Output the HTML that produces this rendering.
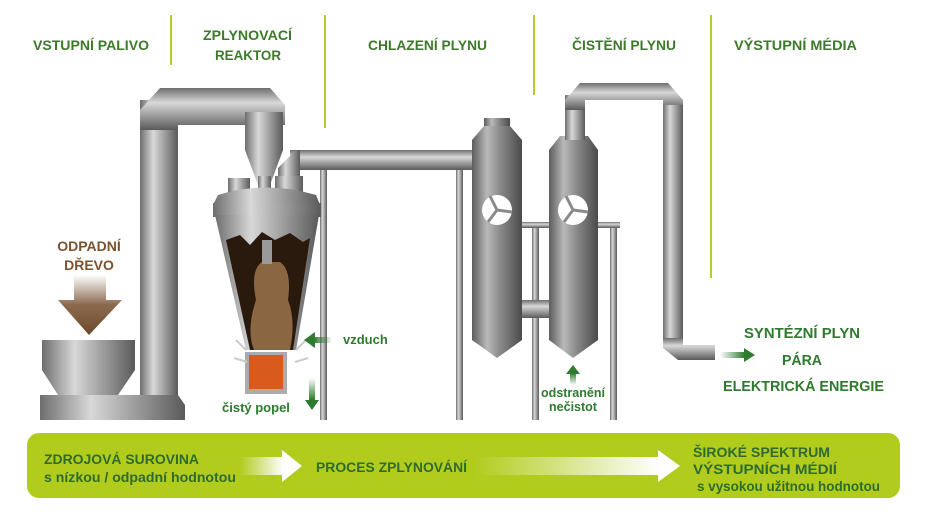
<!DOCTYPE html>
<html><head><meta charset="utf-8"><style>
html,body{margin:0;padding:0;background:#fff;}
svg{display:block;}
text{font-family:"Liberation Sans Narrow","Liberation Sans",sans-serif;font-weight:bold;}
</style></head><body>
<svg width="932" height="531" viewBox="0 0 932 531" xmlns="http://www.w3.org/2000/svg">
<defs>
<linearGradient id="pv" x1="0" x2="1" y1="0" y2="0">
<stop offset="0" stop-color="#6e6e6e"/><stop offset="0.35" stop-color="#d8d8d8"/><stop offset="0.6" stop-color="#a8a8a8"/><stop offset="1" stop-color="#5a5a5a"/></linearGradient>
<linearGradient id="ph" x1="0" x2="0" y1="0" y2="1">
<stop offset="0" stop-color="#6e6e6e"/><stop offset="0.35" stop-color="#d8d8d8"/><stop offset="0.6" stop-color="#a8a8a8"/><stop offset="1" stop-color="#5a5a5a"/></linearGradient>
<linearGradient id="col" x1="0" x2="1" y1="0" y2="0">
<stop offset="0" stop-color="#5c5c5c"/><stop offset="0.3" stop-color="#b9b9b9"/><stop offset="0.55" stop-color="#8c8c8c"/><stop offset="1" stop-color="#4a4a4a"/></linearGradient>
<linearGradient id="brown" x1="0" x2="0" y1="0" y2="1">
<stop offset="0" stop-color="#fff"/><stop offset="0.5" stop-color="#8a6a4e"/><stop offset="1" stop-color="#6e4a2c"/></linearGradient>
<linearGradient id="wa" x1="0" x2="1"><stop offset="0" stop-color="#fff" stop-opacity="0"/><stop offset="1" stop-color="#fff"/></linearGradient>
<linearGradient id="ga" x1="0" x2="1"><stop offset="0" stop-color="#2e7a2e" stop-opacity="0"/><stop offset="1" stop-color="#2e7a2e"/></linearGradient>
<linearGradient id="gar" x1="1" x2="0"><stop offset="0" stop-color="#2e7a2e" stop-opacity="0"/><stop offset="1" stop-color="#2e7a2e"/></linearGradient>
<linearGradient id="gv" x1="0" x2="0" y1="0" y2="1"><stop offset="0" stop-color="#2e7a2e" stop-opacity="0"/><stop offset="1" stop-color="#2e7a2e"/></linearGradient>
<linearGradient id="gu" x1="0" x2="0" y1="1" y2="0"><stop offset="0" stop-color="#2e7a2e" stop-opacity="0"/><stop offset="1" stop-color="#2e7a2e"/></linearGradient>
</defs>

<g stroke="#b5cc2a" stroke-width="2">
<line x1="171" y1="15" x2="171" y2="65"/>
<line x1="325" y1="15" x2="325" y2="128"/>
<line x1="534" y1="15" x2="534" y2="95"/>
<line x1="711" y1="15" x2="711" y2="278"/>
</g>
<g fill="#3c7a2a" font-size="14">
<text x="33" y="50" textLength="116" lengthAdjust="spacingAndGlyphs">VSTUPNÍ PALIVO</text>
<text x="203" y="40" textLength="89" lengthAdjust="spacingAndGlyphs">ZPLYNOVACÍ</text>
<text x="215" y="60" textLength="66" lengthAdjust="spacingAndGlyphs">REAKTOR</text>
<text x="368" y="50" textLength="119" lengthAdjust="spacingAndGlyphs">CHLAZENÍ PLYNU</text>
<text x="572" y="50" textLength="104" lengthAdjust="spacingAndGlyphs">ČISTĚNÍ PLYNU</text>
<text x="734" y="50" textLength="123" lengthAdjust="spacingAndGlyphs">VÝSTUPNÍ MÉDIA</text>
</g>

<g fill="url(#pv)">
<rect x="320" y="165" width="7" height="255"/>
<rect x="456" y="165" width="7" height="255"/>
<rect x="532" y="225" width="7" height="195"/>
<rect x="610" y="225" width="7" height="195"/>
</g>
<rect x="520" y="222" width="100" height="6" fill="url(#ph)"/>
<rect x="520" y="300" width="32" height="18" fill="url(#ph)"/>

<rect x="140" y="100" width="38" height="300" fill="url(#pv)"/>
<path d="M140 110 L160 88 L270 88 L285 105 L285 125 L178 125 L178 130 L140 130Z" fill="url(#ph)"/>
<rect x="245" y="112" width="38" height="38" fill="url(#pv)"/>
<path d="M245 150 L283 150 L270 185 L258 185Z" fill="url(#pv)"/>
<rect x="258" y="176" width="13" height="20" fill="url(#pv)"/>

<rect x="290" y="150" width="185" height="20" fill="url(#ph)"/>
<path d="M278 180 L278 168 L296 150 L300 150 L300 180Z" fill="url(#pv)"/>
<rect x="275" y="176" width="28" height="16" fill="url(#pv)"/>
<rect x="228" y="178" width="22" height="16" fill="url(#pv)"/>

<path d="M218 195 Q266 180 316 195 L320 205 L213 205Z" fill="url(#pv)"/>
<rect x="213" y="203" width="108" height="14" fill="url(#pv)"/>
<path d="M215 215 L319 215 L296 350 L246 350Z" fill="url(#pv)"/>
<path d="M226 240 L240 235 L250 245 L262 232 L275 240 L290 233 L303 242 L310 238 L293 350 L250 350Z" fill="#2a1a0e"/>
<path d="M262 262 Q250 270 256 300 Q246 330 254 350 L290 350 Q296 320 288 300 Q292 270 280 262Z" fill="#8a6642"/>
<rect x="262" y="240" width="10" height="24" fill="#9a9a9a"/>
<rect x="245" y="352" width="42" height="42" fill="#ababab"/>
<rect x="249" y="355" width="34" height="34" fill="#d85a1c"/>
<path d="M236 340 L246 350 M306 340 L296 350 M234 358 L247 362 M308 358 L295 362" stroke="#ccc" stroke-width="2"/>

<rect x="484" y="118" width="26" height="10" fill="url(#col)"/>
<path d="M472 140 L484 126 L510 126 L522 140 L522 340 L497 358 L472 340Z" fill="url(#col)"/>
<path d="M549 150 L560 136 L588 136 L598 150 L598 340 L573 358 L549 340Z" fill="url(#col)"/>
<rect x="565" y="95" width="20" height="45" fill="url(#pv)"/>
<path d="M565 100 L580 83 L668 83 L683 100 L683 110 L663 110 L663 100 L585 100 L585 110 L565 110Z" fill="url(#ph)"/>
<rect x="663" y="105" width="20" height="235" fill="url(#pv)"/>
<path d="M663 338 L683 338 L683 345 L715 345 L715 360 L678 360 L663 348Z" fill="url(#ph)"/>
<!-- logos -->
<g>
<circle cx="497" cy="210" r="15" fill="#fff"/>
<path d="M497 210 L490 196 M497 210 L512 212 M497 210 L488 222" stroke="#8a8a8a" stroke-width="3"/>
<circle cx="573" cy="210" r="15" fill="#fff"/>
<path d="M573 210 L566 196 M573 210 L588 212 M573 210 L564 222" stroke="#8a8a8a" stroke-width="3"/>
</g>

<rect x="42" y="340" width="93" height="30" fill="url(#pv)"/>
<path d="M42 370 L135 370 L118 395 L58 395Z" fill="url(#pv)"/>
<path d="M40 395 L178 395 L185 405 L185 420 L40 420Z" fill="url(#pv)"/>
<text x="89" y="251" fill="#7a5230" font-size="14" text-anchor="middle">ODPADNÍ</text>
<text x="89" y="270" fill="#7a5230" font-size="14" text-anchor="middle">DŘEVO</text>
<path d="M74 275 L106 275 L106 300 L122 300 L89 335 L58 300 L74 300Z" fill="url(#brown)"/>

<rect x="314" y="337" width="18" height="6" fill="url(#gar)"/>
<path d="M304 340 L315 332 L315 348Z" fill="#2e7a2e"/>
<text x="343" y="344" fill="#2e7a2e" font-size="13" font-family="Liberation Sans" font-weight="normal">vzduch</text>
<text x="222" y="412" fill="#2e7a2e" font-size="13">čistý popel</text>
<rect x="309" y="378" width="6" height="22" fill="url(#gv)"/>
<path d="M305 400 L319 400 L312 410Z" fill="#2e7a2e"/>
<rect x="570" y="373" width="6" height="12" fill="url(#gu)"/>
<path d="M566 374 L580 374 L573 365Z" fill="#2e7a2e"/>
<text x="573" y="397" fill="#2e7a2e" font-size="12.5" text-anchor="middle">odstranění</text>
<text x="573" y="411" fill="#2e7a2e" font-size="12.5" text-anchor="middle">nečistot</text>

<rect x="720" y="352" width="25" height="6" fill="url(#ga)"/>
<path d="M744 348 L755 355 L744 362Z" fill="#2e7a2e"/>
<g fill="#2e7a2e" font-size="15" font-family="Liberation Sans">
<text x="744" y="338" textLength="116" lengthAdjust="spacingAndGlyphs">SYNTÉZNÍ PLYN</text>
<text x="782" y="365" textLength="40" lengthAdjust="spacingAndGlyphs">PÁRA</text>
<text x="723" y="391" textLength="161" lengthAdjust="spacingAndGlyphs">ELEKTRICKÁ ENERGIE</text>
</g>

<rect x="27" y="433" width="873" height="65" rx="12" fill="#b2cc1e"/>
<rect x="240" y="457" width="44" height="18" fill="url(#wa)"/>
<path d="M282 450 L302 466 L282 482Z" fill="#fff"/>
<rect x="475" y="457" width="185" height="18" fill="url(#wa)"/>
<path d="M658 450 L680 466 L658 482Z" fill="#fff"/>
<g fill="#2f6b2e" font-size="13.5">
<text x="44" y="464" textLength="155" lengthAdjust="spacingAndGlyphs">ZDROJOVÁ SUROVINA</text>
<text x="44" y="482" textLength="192" lengthAdjust="spacingAndGlyphs">s nízkou / odpadní hodnotou</text>
<text x="316" y="472" textLength="151" lengthAdjust="spacingAndGlyphs">PROCES ZPLYNOVÁNÍ</text>
<text x="693" y="457" textLength="137" lengthAdjust="spacingAndGlyphs">ŠIROKÉ SPEKTRUM</text>
<text x="693" y="474" textLength="144" lengthAdjust="spacingAndGlyphs">VÝSTUPNÍCH MÉDIÍ</text>
<text x="697" y="491" textLength="183" lengthAdjust="spacingAndGlyphs">s vysokou užitnou hodnotou</text>
</g>
</svg>
</body></html>
